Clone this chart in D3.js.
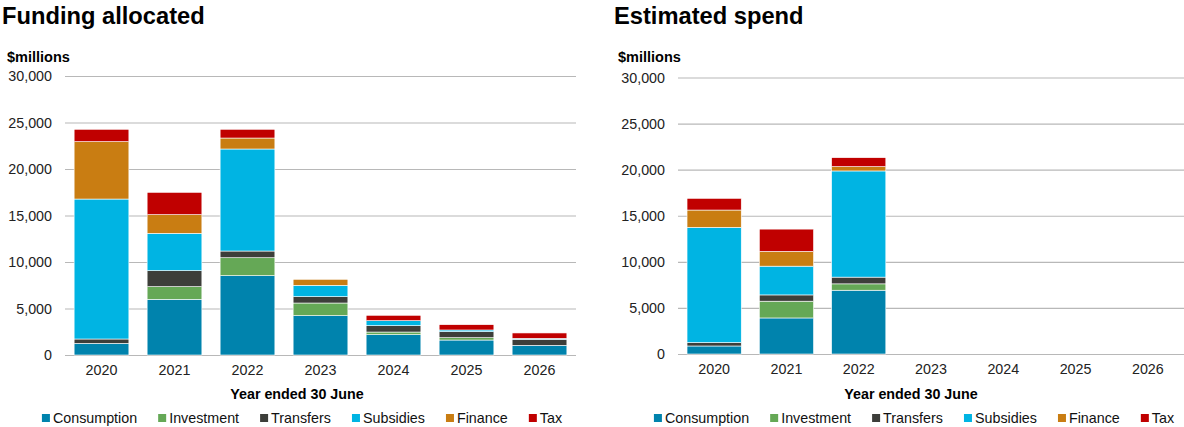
<!DOCTYPE html>
<html>
<head>
<meta charset="utf-8">
<script src="https://cdn.jsdelivr.net/npm/d3@7"></script>
<style>
  html, body { margin: 0; padding: 0; background: #fff; }
  svg { display: block; font-family: "Liberation Sans", Arial, sans-serif; }
</style>
</head>
<body>
<svg id="chart" width="1184" height="427"></svg>
<script>
// Years on the x axis
const years = ["2020", "2021", "2022", "2023", "2024", "2025", "2026"];
// Spending categories, bottom to top of each stack
const seriesNames = ["Consumption", "Investment", "Transfers", "Subsidies", "Finance", "Tax"];
const seriesColors = ["#0083ad", "#65a856", "#3d3e3a", "#00b4e3", "#c97d12", "#c00000"];
const yTicks = [0, 5000, 10000, 15000, 20000, 25000, 30000];

// Funding allocated, $millions
const allocConsumption = [1250, 5990, 8530, 4230, 2190, 1610, 1040];
const allocInvestment  = [0, 1360, 1930, 1360, 280, 250, 0];
const allocTransfers   = [470, 1720, 720, 680, 680, 650, 650];
const allocSubsidies   = [15050, 4010, 10970, 1220, 540, 180, 100];
const allocFinance     = [6170, 2010, 1180, 650, 0, 0, 0];
const allocTax         = [1330, 2400, 940, 0, 580, 570, 580];

// Estimated spend, $millions
const spendConsumption = [870, 3910, 6920, 0, 0, 0, 0];
const spendInvestment  = [0, 1820, 690, 0, 0, 0, 0];
const spendTransfers   = [370, 680, 730, 0, 0, 0, 0];
const spendSubsidies   = [12500, 3120, 11520, 0, 0, 0, 0];
const spendFinance     = [1880, 1600, 470, 0, 0, 0, 0];
const spendTax         = [1270, 2420, 970, 0, 0, 0, 0];

function toRows(cols) {
  return years.map((yr, i) => {
    const row = { year: yr };
    seriesNames.forEach((s, k) => { row[s] = cols[k][i]; });
    return row;
  });
}

const svg = d3.select("#chart");
const fmt = d3.format(",");

function drawPanel(p) {
  const g = svg.append("g");
  const x = d3.scaleBand().domain(years).range([p.x0, p.x1]).paddingInner(0.25).paddingOuter(0.125);
  const y = d3.scaleLinear().domain([0, 30000]).range([p.y0, p.y1]);

  // title
  g.append("text").attr("x", p.titleX).attr("y", 24)
    .attr("font-size", 23.7).attr("font-weight", "bold").attr("fill", "#000")
    .text(p.title);
  // unit label
  g.append("text").attr("x", p.unitX).attr("y", 62)
    .attr("font-size", 14.5).attr("font-weight", "bold").attr("fill", "#000")
    .text("$millions");

  // gridlines + y tick labels
  const yAxis = d3.axisLeft(y).tickValues(yTicks).tickFormat(fmt).tickSize(-(p.x1 - p.x0)).tickPadding(13);
  const ya = g.append("g").attr("transform", `translate(${p.x0},0)`).call(yAxis);
  ya.select(".domain").remove();
  ya.selectAll(".tick line").attr("stroke", "#b8b8b8").attr("stroke-width", 1.2);
  ya.selectAll(".tick text").attr("font-size", 14.3).attr("fill", "#222")
    .attr("font-family", "Liberation Sans, Arial, sans-serif");

  // stacked bars
  const stack = d3.stack().keys(seriesNames);
  const layers = stack(toRows(p.cols));
  g.append("g").selectAll("g").data(layers).join("g")
    .attr("fill", (d, i) => seriesColors[i])
    .selectAll("rect").data(d => d.filter(v => v[1] - v[0] > 0)).join("rect")
    .attr("x", d => x(d.data.year))
    .attr("width", x.bandwidth())
    .attr("y", d => y(d[1]))
    .attr("height", d => y(d[0]) - y(d[1]))
    .attr("stroke", "#ffffff").attr("stroke-width", 0.6);

  // x axis labels
  const xAxis = d3.axisBottom(x).tickSize(0).tickPadding(10);
  const xa = g.append("g").attr("transform", `translate(0,${p.y0})`).call(xAxis);
  xa.select(".domain").remove();
  xa.selectAll(".tick text").attr("font-size", 14.3).attr("fill", "#222")
    .attr("font-family", "Liberation Sans, Arial, sans-serif");

  // x axis title
  g.append("text").attr("x", p.axisTitleX).attr("y", 399)
    .attr("text-anchor", "middle").attr("font-size", 14.3).attr("font-weight", "bold").attr("fill", "#000")
    .text("Year ended 30 June");

  // legend
  const leg = g.append("g").attr("transform", `translate(0,423)`);
  const gap = 21;
  let cx = 0;
  const items = [];
  seriesNames.forEach((s, i) => {
    const it = leg.append("g");
    it.append("rect").attr("x", 0).attr("y", -9).attr("width", 8).attr("height", 8).attr("fill", seriesColors[i]);
    const t = it.append("text").attr("x", 11).attr("y", 0).attr("font-size", 14.3).attr("fill", "#111").text(s);
    const w = 11 + t.node().getComputedTextLength();
    items.push({ it, cx });
    cx += w + gap;
  });
  const total = cx - gap;
  const start = p.legendCenter - total / 2;
  items.forEach(o => o.it.attr("transform", `translate(${start + o.cx},0)`));
}

drawPanel({
  title: "Funding allocated", titleX: 2, unitX: 7,
  x0: 65, x1: 576, y0: 355, y1: 76,
  axisTitleX: 297, legendCenter: 302,
  cols: [allocConsumption, allocInvestment, allocTransfers, allocSubsidies, allocFinance, allocTax]
});

drawPanel({
  title: "Estimated spend", titleX: 614, unitX: 618,
  x0: 678, x1: 1184, y0: 354, y1: 77.5,
  axisTitleX: 911, legendCenter: 914,
  cols: [spendConsumption, spendInvestment, spendTransfers, spendSubsidies, spendFinance, spendTax]
});
</script>
</body>
</html>
